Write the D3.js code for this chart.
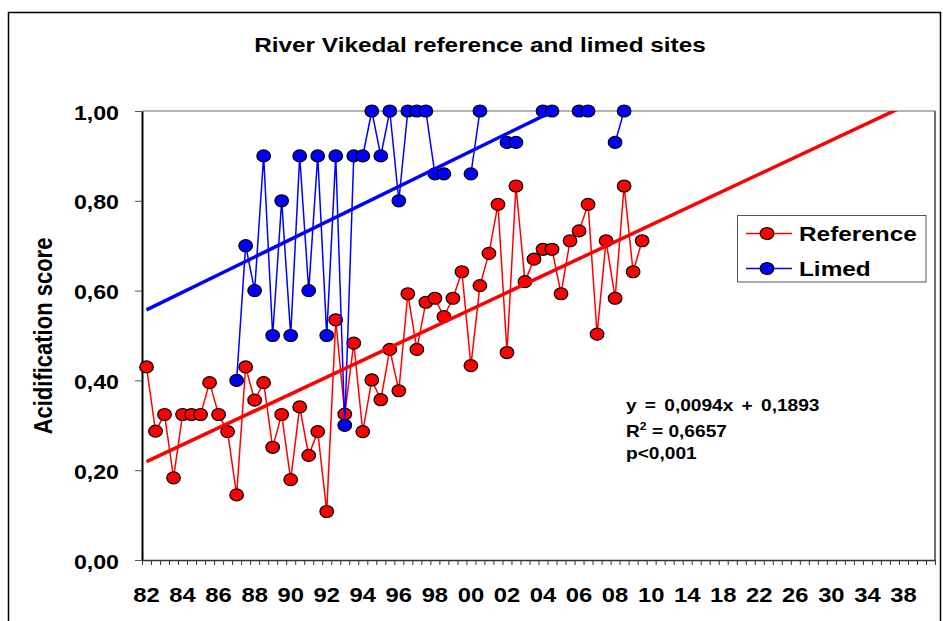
<!DOCTYPE html>
<html>
<head>
<meta charset="utf-8">
<script src="https://cdn.jsdelivr.net/npm/d3@7"></script>
<style>
  html, body { margin: 0; padding: 0; background: #fff; }
  svg { display: block; }
  text { font-family: "Liberation Sans", Arial, sans-serif; font-weight: bold; fill: #000; }
</style>
</head>
<body>
<svg id="chart" width="943" height="621"></svg>
<script>
// Acidification score per half-year sample, 1982 onwards (null = not sampled)
const reference = [
  0.430, 0.287, 0.324, 0.183, 0.324, 0.324, 0.324, 0.395, 0.324, 0.286,
  0.145, 0.430, 0.356, 0.395, 0.251, 0.324, 0.179, 0.341, 0.233, 0.286,
  0.108, 0.535, 0.325, 0.483, 0.286, 0.401, 0.357, 0.469, 0.377, 0.593,
  0.469, 0.574, 0.583, 0.542, 0.583, 0.642, 0.433, 0.611, 0.683, 0.792,
  0.462, 0.833, 0.620, 0.670, 0.692, 0.692, 0.593, 0.711, 0.733, 0.792,
  0.503, 0.711, 0.583, 0.833, 0.642, 0.711
];
const limed = [
  null, null, null, null, null, null, null, null, null, null,
  0.40, 0.70, 0.60, 0.90, 0.50, 0.80, 0.50, 0.90, 0.60, 0.90,
  0.50, 0.90, 0.30, 0.90, 0.90, 1.00, 0.90, 1.00, 0.80, 1.00,
  1.00, 1.00, 0.86, 0.86, null, null, 0.86, 1.00, null, null,
  0.93, 0.93, null, null, 1.00, 1.00, null, null, 1.00, 1.00,
  null, null, 0.93, 1.00, null, null
];
// Category axis: half-years 1982-2010, then whole years to 2041
const categoryCount = 88;
const tickLabels = ["82","84","86","88","90","92","94","96","98","00","02","04","06","08","10",
                    "14","18","22","26","30","34","38"];
const yTicks = [0, 0.2, 0.4, 0.6, 0.8, 1.0];
const seriesNames = ["Reference", "Limed"];
const seriesColors = ["#FF0000", "#0000FF"];
const equationLines = ["y = 0,0094x + 0,1893", "R", "2", " = 0,6657", "p<0,001"];
const title = "River Vikedal reference and limed sites";
const yTitle = "Acidification score";

const SX = 1.16; // horizontal stretch of the whole figure (text and markers)
const svg = d3.select("#chart");
const plot = { left: 142, right: 935, top: 111, bottom: 560 };

const x = d3.scaleLinear().domain([0.5, categoryCount + 0.5]).range([plot.left, plot.right]);
const y = d3.scaleLinear().domain([0, 1]).range([plot.bottom, plot.top]);

function stext(g, px, py, str, size, anchor) {
  return g.append("text")
    .attr("transform", `translate(${px},${py}) scale(${SX},1)`)
    .attr("text-anchor", anchor || "start")
    .style("font-size", size + "px")
    .text(str);
}

// outer frame
svg.append("rect").attr("x", 8.5).attr("y", 12.5).attr("width", 932).attr("height", 640)
  .attr("fill", "none").attr("stroke", "#000").attr("stroke-width", 1.5);

// title
stext(svg, 480, 52, title, 21, "middle");

// y-axis title
svg.append("text")
  .attr("transform", `translate(52,336) scale(${SX},1) rotate(-90)`)
  .attr("text-anchor", "middle")
  .style("font-size", "22px")
  .text(yTitle);

// plot frame (top and right)
svg.append("line").attr("x1", plot.left).attr("x2", plot.right).attr("y1", plot.top).attr("y2", plot.top)
  .attr("stroke", "#6b6b6b").attr("stroke-width", 1.2);
svg.append("line").attr("x1", plot.right).attr("x2", plot.right).attr("y1", plot.top).attr("y2", plot.bottom)
  .attr("stroke", "#222").attr("stroke-width", 1.3);

// x axis: a tick at every category boundary
const xAxis = svg.append("g").attr("transform", `translate(0,${plot.bottom})`)
  .call(d3.axisBottom(x).tickValues(d3.range(0.5, categoryCount + 1, 1)).tickFormat("").tickSize(5).tickSizeOuter(0));
xAxis.select(".domain").attr("stroke", "#333").attr("stroke-width", 1.6);
xAxis.selectAll(".tick line").attr("stroke", "#333").attr("stroke-width", 1);

// x labels every fourth category
const xLab = svg.append("g");
tickLabels.forEach((lab, k) => stext(xLab, x(1 + 4 * k), 602, lab, 20.5, "middle"));

// y axis
const yAxis = svg.append("g").attr("transform", `translate(${plot.left},0)`)
  .call(d3.axisLeft(y).tickValues(yTicks).tickSize(7).tickSizeOuter(0)
    .tickFormat(d => d3.format(".2f")(d).replace(".", ",")));
yAxis.select(".domain").attr("stroke", "#000").attr("stroke-width", 2);
yAxis.selectAll(".tick line").attr("stroke", "#555").attr("stroke-width", 1);
yAxis.selectAll(".tick text")
  .attr("x", null).attr("dy", null)
  .attr("transform", `translate(-23,8) scale(${SX},1)`)
  .attr("fill", "#000")
  .style("font-size", "20px")
  .style("font-family", "'Liberation Sans', Arial, sans-serif")
  .style("font-weight", "bold");

// clip for trend lines
svg.append("clipPath").attr("id", "plotClip").append("rect")
  .attr("x", plot.left).attr("y", plot.top).attr("width", plot.right - plot.left).attr("height", plot.bottom - plot.top);

const seriesData = [reference, limed];

// least-squares fit against category number
function fit(values) {
  const pts = values.map((v, i) => [i + 1, v]).filter(p => p[1] != null);
  const mx = d3.mean(pts, p => p[0]), my = d3.mean(pts, p => p[1]);
  const sxy = d3.sum(pts, p => (p[0] - mx) * (p[1] - my));
  const sxx = d3.sum(pts, p => (p[0] - mx) * (p[0] - mx));
  const slope = sxy / sxx;
  return { slope, intercept: my - slope * mx };
}

const line = d3.line().defined(d => d.v != null).x(d => x(d.i)).y(d => y(d.v));

seriesData.forEach((vals, s) => {
  const pts = vals.map((v, k) => ({ i: k + 1, v }));
  svg.append("path").datum(pts).attr("d", line)
    .attr("fill", "none").attr("stroke", seriesColors[s]).attr("stroke-width", 1.5);
  svg.append("g").selectAll("ellipse").data(pts.filter(d => d.v != null)).join("ellipse")
    .attr("cx", d => x(d.i)).attr("cy", d => y(d.v))
    .attr("rx", 6.8).attr("ry", 6)
    .attr("fill", seriesColors[s]).attr("stroke", "#000").attr("stroke-width", 1.2);
});

// linear trend lines
seriesData.forEach((vals, s) => {
  const f = fit(vals);
  svg.append("line").attr("clip-path", "url(#plotClip)")
    .attr("x1", x(1)).attr("y1", y(f.intercept + f.slope * 1))
    .attr("x2", x(categoryCount)).attr("y2", y(f.intercept + f.slope * categoryCount))
    .attr("stroke", seriesColors[s]).attr("stroke-width", 3.5);
});

// legend
const lg = svg.append("g");
lg.append("rect").attr("x", 737.5).attr("y", 215.5).attr("width", 188.5).attr("height", 66.5)
  .attr("fill", "#fff").attr("stroke", "#555").attr("stroke-width", 1);
seriesNames.forEach((name, s) => {
  const ly = 233.5 + s * 35;
  lg.append("line").attr("x1", 746).attr("x2", 792).attr("y1", ly).attr("y2", ly)
    .attr("stroke", seriesColors[s]).attr("stroke-width", 1.5);
  lg.append("ellipse").attr("cx", 767).attr("cy", ly).attr("rx", 6.8).attr("ry", 6)
    .attr("fill", seriesColors[s]).attr("stroke", "#000").attr("stroke-width", 1.2);
  stext(lg, 799, ly + 7, name, 21, "start");
});

// regression statistics
const eq = svg.append("g");
stext(eq, 626, 411, equationLines[0], 16.5, "start").style("word-spacing", "2.5px");
const r2 = stext(eq, 626, 436.5, "", 16.5, "start");
r2.append("tspan").text(equationLines[1]);
r2.append("tspan").attr("dy", -7).style("font-size", "10.5px").text(equationLines[2]);
r2.append("tspan").attr("dy", 7).text(equationLines[3]);
stext(eq, 626, 459, equationLines[4], 16.5, "start");
</script>
</body>
</html>
